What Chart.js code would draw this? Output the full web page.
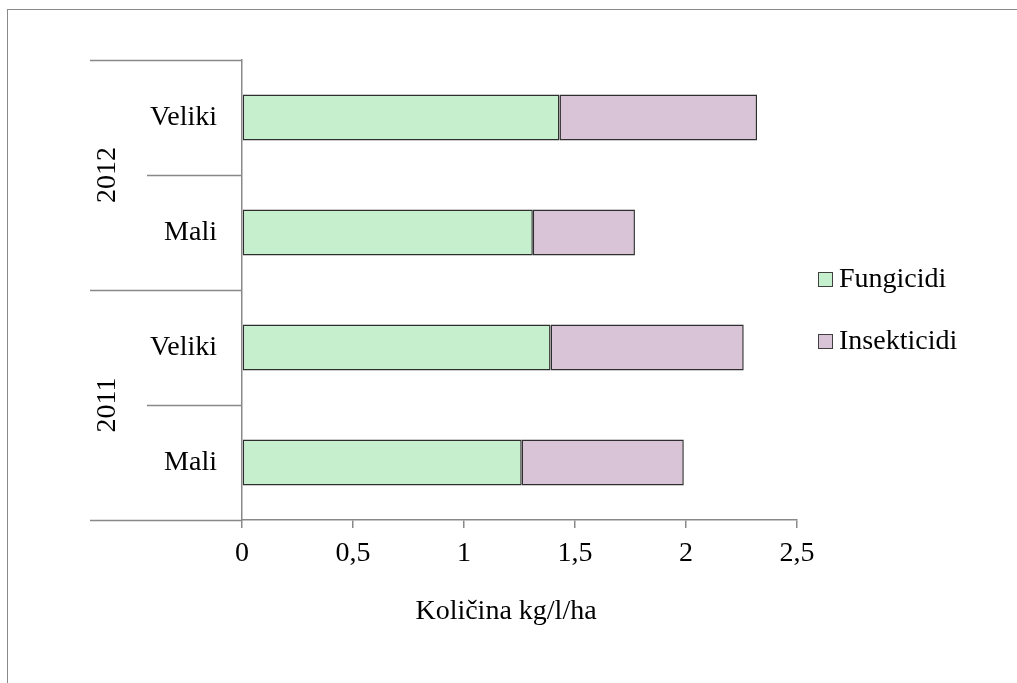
<!DOCTYPE html>
<html lang="sr">
<head>
    <meta charset="UTF-8">
    <title>Količina kg/l/ha</title>
    <script src="https://cdn.jsdelivr.net/npm/chart.js@4.4.1/dist/chart.umd.min.js"></script>
    <style>
        body { margin: 0; background: #ffffff; }
        .wrap { position: relative; width: 1017px; height: 683px; overflow: hidden; }
        .frame { position: absolute; left: 7px; top: 9px; right: -2px; bottom: -2px;
            border-left: 1px solid #8a8a8a; border-top: 1px solid #8a8a8a; pointer-events: none; }
        canvas { position: absolute; left: 0; top: 0; }
    </style>
</head>
<body>
    <div class="wrap">
        <canvas id="chart" width="1017" height="683"></canvas>
        <div class="frame"></div>
    </div>

    <script>
        // data, top to bottom as in the picture
        const years = ['2012', '2012', '2011', '2011'];
        const sizes = ['Veliki', 'Mali', 'Veliki', 'Mali'];
        const fungicidi = [1.43, 1.31, 1.39, 1.26];
        const insekticidi = [0.89, 0.46, 0.87, 0.73];
        const xTicks = [0, 0.5, 1, 1.5, 2, 2.5];
        const xTitle = 'Količina kg/l/ha';

        const serif = "'Liberation Serif', 'DejaVu Serif', serif";
        const fontSize = 28;
        const lineColor = '#898989';

        // year groups + separator lines on the category axis, drawn by hand
        const groupAxis = {
            id: 'groupAxis',
            afterDraw(chart) {
                const ctx = chart.ctx;
                const y = chart.scales.y;
                const left = chart.chartArea.left;
                const n = years.length;
                const step = y.getPixelForValue(1) - y.getPixelForValue(0);
                const edge = i => i === 0 ? y.getPixelForValue(0) - step / 2
                    : i === n ? y.getPixelForValue(n - 1) + step / 2
                    : (y.getPixelForValue(i - 1) + y.getPixelForValue(i)) / 2;

                ctx.save();
                ctx.strokeStyle = lineColor;
                ctx.lineWidth = 1.5;
                for (let i = 0; i <= n; i++) {
                    const outer = i === 0 || i === n || years[i] !== years[i - 1];
                    const py = Math.round(edge(i)) + 0.5;
                    ctx.beginPath();
                    ctx.moveTo(outer ? 90 : 147, py);
                    ctx.lineTo(left, py);
                    ctx.stroke();
                }

                ctx.fillStyle = '#000';
                ctx.font = fontSize + 'px ' + serif;
                ctx.textAlign = 'center';
                ctx.textBaseline = 'middle';
                let start = 0;
                for (let i = 1; i <= n; i++) {
                    if (i === n || years[i] !== years[start]) {
                        const cy = (edge(start) + edge(i)) / 2;
                        ctx.save();
                        ctx.translate(107, cy);
                        ctx.rotate(-Math.PI / 2);
                        ctx.fillText(years[start], 0, 1);
                        ctx.restore();
                        start = i;
                    }
                }

                // axis title (Excel puts it a bit left of the axis centre)
                ctx.fillText(xTitle, 506, 612);
                ctx.restore();
            }
        };

        // legend on the right
        const sideLegend = {
            id: 'sideLegend',
            afterDraw(chart) {
                const ctx = chart.ctx;
                ctx.save();
                ctx.font = fontSize + 'px ' + serif;
                ctx.textBaseline = 'middle';
                chart.data.datasets.forEach((ds, i) => {
                    const cy = 279 + i * 62;
                    ctx.fillStyle = ds.backgroundColor;
                    ctx.fillRect(818, cy - 7, 15, 15);
                    ctx.strokeStyle = '#404040';
                    ctx.lineWidth = 1;
                    ctx.strokeRect(818.5, cy - 6.5, 14, 14);
                    ctx.fillStyle = '#000';
                    ctx.fillText(ds.label, 839, cy + 1);
                });
                ctx.restore();
            }
        };

        new Chart(document.getElementById('chart'), {
            type: 'bar',
            data: {
                labels: sizes,
                datasets: [
                    { label: 'Fungicidi', data: fungicidi, backgroundColor: '#C6EFCE' },
                    { label: 'Insekticidi', data: insekticidi, backgroundColor: '#D9C3D6' }
                ]
            },
            options: {
                indexAxis: 'y',
                responsive: false,
                animation: false,
                devicePixelRatio: 1,
                layout: { padding: { left: 0, right: 220, top: 60, bottom: 0 } },
                datasets: {
                    bar: {
                        categoryPercentage: 1,
                        barPercentage: 0.4,
                        borderWidth: 1.5,
                        borderColor: '#2e2e2e',
                        borderSkipped: false
                    }
                },
                plugins: {
                    legend: { display: false },
                    tooltip: { enabled: false }
                },
                scales: {
                    x: {
                        stacked: true,
                        min: 0,
                        max: 2.5,
                        afterBuildTicks: s => { s.ticks = xTicks.map(v => ({ value: v })); },
                        afterFit: s => { s.height = 163; },
                        ticks: {
                            color: '#000',
                            font: { family: serif, size: fontSize },
                            padding: 9,
                            maxRotation: 0,
                            callback: v => String(v).replace('.', ',')
                        },
                        grid: { drawOnChartArea: false, drawTicks: true, tickLength: 8, color: lineColor, lineWidth: 1.5 },
                        border: { color: lineColor, width: 1.5 }
                    },
                    y: {
                        stacked: true,
                        afterFit: s => { s.width = 242; },
                        ticks: {
                            color: '#000',
                            font: { family: serif, size: fontSize },
                            padding: 25
                        },
                        grid: { drawOnChartArea: false, drawTicks: false },
                        border: { color: lineColor, width: 1.5 }
                    }
                }
            },
            plugins: [groupAxis, sideLegend]
        });
    </script>
</body>
</html>
